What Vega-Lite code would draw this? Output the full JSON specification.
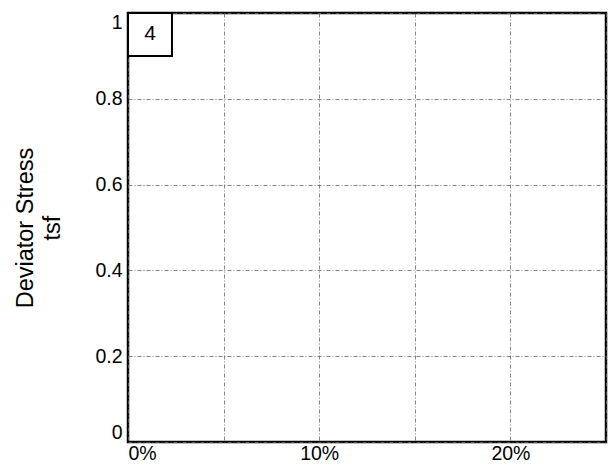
{
  "$schema": "https://vega.github.io/schema/vega-lite/v6.json",
  "width": 478,
  "height": 429,
  "autosize": {"type": "none"},
  "padding": {"left": 128, "top": 13, "right": 4, "bottom": 24},
  "background": "white",
  "config": {
    "font": "Liberation Sans",
    "view": {"stroke": "black", "strokeWidth": 2.5},
    "axis": {
      "domain": false,
      "ticks": false,
      "grid": true,
      "gridColor": "#666",
      "gridWidth": 0.8,
      "gridDash": [4, 2, 1, 2],
      "labelFont": "Liberation Sans",
      "labelFontSize": 19.5,
      "labelColor": "black",
      "titleFont": "Liberation Sans",
      "titleFontWeight": "normal",
      "titleFontSize": 23.5,
      "titleLineHeight": 27,
      "titleColor": "black"
    }
  },
  "data": {"values": [{"x0": 0, "x1": 0.023, "y0": 0.9, "y1": 1, "xm": 0.0115, "ym": 0.95, "label": "4"}]},
  "layer": [
    {
      "mark": {"type": "rect", "fill": "white", "stroke": "black", "strokeWidth": 2},
      "encoding": {
        "x": {
          "field": "x0", "type": "quantitative",
          "scale": {"domain": [0, 0.25], "nice": false},
          "axis": {
            "title": null,
            "values": [0, 0.05, 0.1, 0.15, 0.2, 0.25],
            "labelExpr": "(round(datum.value*100) % 10 == 0 && datum.value < 0.24) ? format(datum.value, '.0%') : ''",
            "labelFlush": true,
            "labelPadding": 2
          }
        },
        "x2": {"field": "x1"},
        "y": {
          "field": "y0", "type": "quantitative",
          "scale": {"domain": [0, 1], "nice": false},
          "axis": {
            "title": ["Deviator Stress", "tsf"],
            "values": [0, 0.2, 0.4, 0.6, 0.8, 1],
            "labelExpr": "datum.value == 0 ? '0' : datum.value == 1 ? '1' : format(datum.value, '.1f')",
            "labelFlush": true,
            "labelPadding": 6,
            "titlePadding": 30
          }
        },
        "y2": {"field": "y1"}
      }
    },
    {
      "mark": {"type": "text", "fontSize": 21, "font": "Liberation Sans", "color": "black", "baseline": "middle", "align": "center"},
      "encoding": {
        "x": {"field": "xm", "type": "quantitative"},
        "y": {"field": "ym", "type": "quantitative"},
        "text": {"field": "label"}
      }
    }
  ]
}
